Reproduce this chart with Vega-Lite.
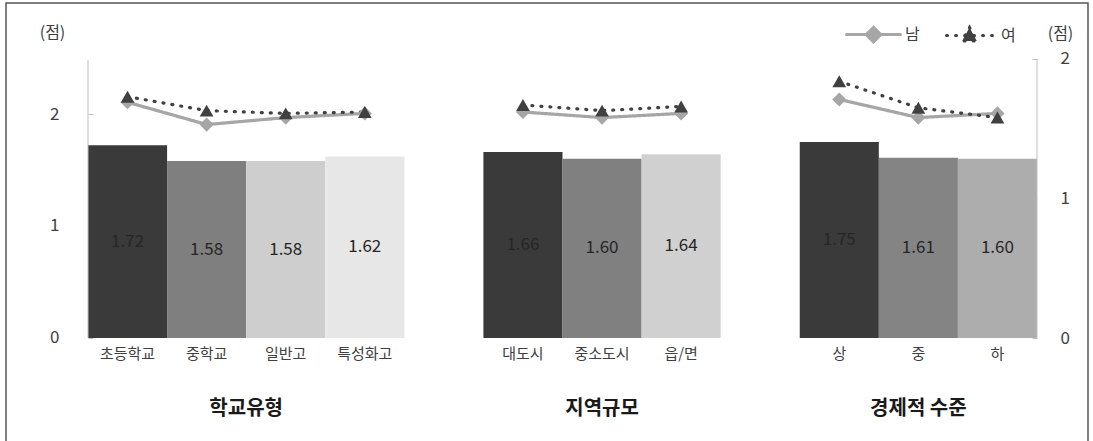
{
  "$schema": "https://vega.github.io/schema/vega-lite/v6.json",
  "autosize": {"type": "none"},
  "padding": {"left": 6, "top": 3, "right": 5, "bottom": 0},
  "width": 1082,
  "height": 439,
  "background": "white",
  "config": {
    "font": "Noto Sans CJK KR",
    "view": {"stroke": "#555555", "strokeWidth": 1.5}
  },
  "datasets": {
    "bars": [
      {"cat": "초등학교", "val": 1.72},
      {"cat": "중학교", "val": 1.58},
      {"cat": "일반고", "val": 1.58},
      {"cat": "특성화고", "val": 1.62},
      {"cat": "대도시", "val": 1.66},
      {"cat": "중소도시", "val": 1.60},
      {"cat": "읍/면", "val": 1.64},
      {"cat": "상", "val": 1.75},
      {"cat": "중", "val": 1.61},
      {"cat": "하", "val": 1.60}
    ],
    "lines": [
      {"cat": "초등학교", "grp": "학교유형", "sex": "남", "val": 1.69},
      {"cat": "중학교", "grp": "학교유형", "sex": "남", "val": 1.53},
      {"cat": "일반고", "grp": "학교유형", "sex": "남", "val": 1.58},
      {"cat": "특성화고", "grp": "학교유형", "sex": "남", "val": 1.61},
      {"cat": "대도시", "grp": "지역규모", "sex": "남", "val": 1.62},
      {"cat": "중소도시", "grp": "지역규모", "sex": "남", "val": 1.58},
      {"cat": "읍/면", "grp": "지역규모", "sex": "남", "val": 1.61},
      {"cat": "상", "grp": "경제적 수준", "sex": "남", "val": 1.71},
      {"cat": "중", "grp": "경제적 수준", "sex": "남", "val": 1.58},
      {"cat": "하", "grp": "경제적 수준", "sex": "남", "val": 1.61},
      {"cat": "초등학교", "grp": "학교유형", "sex": "여", "val": 1.73},
      {"cat": "중학교", "grp": "학교유형", "sex": "여", "val": 1.63},
      {"cat": "일반고", "grp": "학교유형", "sex": "여", "val": 1.61},
      {"cat": "특성화고", "grp": "학교유형", "sex": "여", "val": 1.62},
      {"cat": "대도시", "grp": "지역규모", "sex": "여", "val": 1.67},
      {"cat": "중소도시", "grp": "지역규모", "sex": "여", "val": 1.63},
      {"cat": "읍/면", "grp": "지역규모", "sex": "여", "val": 1.66},
      {"cat": "상", "grp": "경제적 수준", "sex": "여", "val": 1.84},
      {"cat": "중", "grp": "경제적 수준", "sex": "여", "val": 1.65},
      {"cat": "하", "grp": "경제적 수준", "sex": "여", "val": 1.58}
    ]
  },
  "layer": [
    {
      "data": {"name": "bars"},
      "mark": {"type": "bar"},
      "encoding": {
        "x": {
          "field": "cat",
          "type": "nominal",
          "sort": ["초등학교", "중학교", "일반고", "특성화고", " ", "대도시", "중소도시", "읍/면", "  ", "상", "중", "하"],
          "scale": {
            "domain": ["초등학교", "중학교", "일반고", "특성화고", " ", "대도시", "중소도시", "읍/면", "  ", "상", "중", "하"],
            "paddingInner": 0,
            "paddingOuter": 0.841,
            "align": 0.6165
          },
          "axis": {
            "orient": "bottom",
            "offset": -104,
            "domain": false,
            "ticks": false,
            "labelAngle": 0,
            "labelPadding": 8,
            "labelFontSize": 15,
            "labelColor": "#404040",
            "labelFont": "Noto Sans CJK KR",
            "title": null
          }
        },
        "y": {
          "field": "val",
          "type": "quantitative",
          "scale": {"domain": [-0.9286, 2.9911], "nice": false, "zero": false},
          "axis": {
            "orient": "left",
            "offset": -82,
            "values": [0, 1, 2],
            "domain": false,
            "grid": false,
            "tickSize": -5,
            "tickColor": "#bfbfbf",
            "labelPadding": 34,
            "labelFontSize": 17,
            "labelColor": "#404040",
            "labelFont": "Noto Sans CJK KR",
            "title": "(점)",
            "titleAngle": 0,
            "titleX": -36,
            "titleY": 29,
            "titleAlign": "center",
            "titleBaseline": "middle",
            "titleFontSize": 16,
            "titleFontWeight": "normal",
            "titleColor": "#404040",
            "titleFont": "Noto Sans CJK KR"
          }
        },
        "y2": {"datum": 0},
        "fill": {
          "field": "cat",
          "type": "nominal",
          "scale": {
            "domain": ["초등학교", "중학교", "일반고", "특성화고", "대도시", "중소도시", "읍/면", "상", "중", "하"],
            "range": ["#3a3a3a", "#7f7f7f", "#cecece", "#e7e7e7", "#3a3a3a", "#808080", "#d0d0d0", "#3a3a3a", "#848484", "#adadad"]
          },
          "legend": null
        }
      }
    },
    {
      "data": {"name": "bars"},
      "mark": {"type": "text", "fontSize": 17, "color": "#262626", "baseline": "middle", "align": "center"},
      "encoding": {
        "x": {"field": "cat", "type": "nominal"},
        "y": {
          "field": "val",
          "type": "quantitative",
          "scale": {"domain": [-1.8572, 5.9822], "nice": false, "zero": false},
          "axis": null
        },
        "text": {"field": "val", "type": "quantitative", "format": ".2f"}
      }
    },
    {
      "data": {"values": [{"c": "초등학교"}]},
      "mark": {"type": "rule", "color": "#bfbfbf", "strokeWidth": 1},
      "encoding": {
        "x": {"field": "c", "type": "nominal", "bandPosition": 0},
        "y": {"datum": 0, "type": "quantitative", "scale": {"domain": [-0.9286, 2.9911], "nice": false, "zero": false}, "axis": null},
        "y2": {"datum": 2.482}
      }
    },
    {
      "data": {"values": [{"c": "하"}]},
      "mark": {"type": "rule", "color": "#bfbfbf", "strokeWidth": 1},
      "encoding": {
        "x": {"field": "c", "type": "nominal", "bandPosition": 1},
        "y": {"datum": 0, "type": "quantitative", "scale": {"domain": [-0.7455, 2.4014], "nice": false, "zero": false}, "axis": null},
        "y2": {"datum": 2}
      }
    },
    {
      "data": {"values": [{"t": "학교유형", "c": "일반고"}]},
      "mark": {"type": "text", "fontSize": 20, "fontWeight": "bold", "color": "#1a1a1a", "baseline": "middle", "align": "center"},
      "encoding": {
        "x": {"field": "c", "type": "nominal", "bandPosition": 0},
        "y": {"datum": -0.634, "type": "quantitative", "scale": {"domain": [-0.9286, 2.9911], "nice": false, "zero": false}, "axis": null},
        "text": {"field": "t"}
      }
    },
    {
      "data": {"values": [{"t": "지역규모", "c": "중소도시"}, {"t": "경제적 수준", "c": "중"}]},
      "mark": {"type": "text", "fontSize": 20, "fontWeight": "bold", "color": "#1a1a1a", "baseline": "middle", "align": "center"},
      "encoding": {
        "x": {"field": "c", "type": "nominal"},
        "y": {"datum": -0.634, "type": "quantitative", "scale": {"domain": [-0.9286, 2.9911], "nice": false, "zero": false}, "axis": null},
        "text": {"field": "t"}
      }
    },
    {
      "data": {"name": "lines"},
      "mark": {"type": "line", "strokeWidth": 3.2, "strokeCap": "round"},
      "encoding": {
        "x": {
          "field": "cat",
          "type": "nominal",
          "sort": ["초등학교", "중학교", "일반고", "특성화고", " ", "대도시", "중소도시", "읍/면", "  ", "상", "중", "하"]
        },
        "y": {
          "field": "val",
          "type": "quantitative",
          "scale": {"domain": [-0.7455, 2.4014], "nice": false, "zero": false},
          "axis": {
            "orient": "right",
            "offset": -51,
            "values": [0, 1, 2],
            "domain": false,
            "grid": false,
            "tickSize": -5,
            "tickColor": "#bfbfbf",
            "labelPadding": 28,
            "labelFontSize": 17,
            "labelColor": "#404040",
            "labelFont": "Noto Sans CJK KR",
            "title": "(점)",
            "titleAngle": 0,
            "titleX": 23,
            "titleY": 30,
            "titleAlign": "center",
            "titleBaseline": "middle",
            "titleFontSize": 16,
            "titleFontWeight": "normal",
            "titleColor": "#404040",
            "titleFont": "Noto Sans CJK KR"
          }
        },
        "color": {
          "field": "sex",
          "type": "nominal",
          "scale": {"domain": ["남", "여"], "range": ["#a6a6a6", "#404040"]},
          "legend": {
            "orient": "none",
            "legendX": 839,
            "legendY": 3,
            "direction": "horizontal",
            "title": null,
            "symbolType": "M-1,0L1,0",
            "symbolSize": 2916,
            "symbolStrokeWidth": 3,
            "labelFontSize": 16,
            "labelOffset": 3,
            "columnPadding": 20,
            "padding": 0,
            "labelColor": "#404040",
            "labelFont": "Noto Sans CJK KR",
            "encode": {
              "symbols": {
                "update": {
                  "shape": {"signal": "datum.value === '남' ? 'M-1,0L1,0M0,-0.27L0.27,0L0,0.27L-0.27,0Z' : 'M-0.85,0L0.85,0M0,-0.3L0.27,0.2L-0.27,0.2Z'"},
                  "fill": {"signal": "datum.value === '남' ? '#a6a6a6' : '#404040'"},
                  "stroke": {"signal": "datum.value === '남' ? '#a6a6a6' : '#404040'"},
                  "strokeDash": {"signal": "datum.value === '남' ? [1, 0] : [1, 6]"},
                  "strokeCap": {"value": "round"},
                  "strokeWidth": {"value": 3},
                  "opacity": {"value": 1},
                  "fillOpacity": {"value": 1}
                }
              }
            }
          }
        },
        "strokeDash": {
          "field": "sex",
          "type": "nominal",
          "scale": {"domain": ["남", "여"], "range": [[1, 0], [1, 8]]},
          "legend": null
        },
        "detail": {"field": "grp", "type": "nominal"}
      }
    },
    {
      "data": {"name": "lines"},
      "transform": [{"filter": "datum.sex === '남'"}],
      "mark": {"type": "point", "filled": true, "size": 200, "opacity": 1, "shape": "diamond"},
      "encoding": {
        "x": {"field": "cat", "type": "nominal"},
        "y": {
          "field": "val",
          "type": "quantitative",
          "scale": {"domain": [-0.7455, 2.4014], "nice": false, "zero": false},
          "axis": null
        },
        "color": {"field": "sex", "type": "nominal"}
      }
    },
    {
      "data": {"name": "lines"},
      "transform": [{"filter": "datum.sex === '여'"}],
      "mark": {"type": "point", "filled": true, "size": 190, "opacity": 1, "shape": "triangle-up"},
      "encoding": {
        "x": {"field": "cat", "type": "nominal"},
        "y": {
          "field": "val",
          "type": "quantitative",
          "scale": {"domain": [-0.7455, 2.4014], "nice": false, "zero": false},
          "axis": null
        },
        "color": {"field": "sex", "type": "nominal"}
      }
    }
  ],
  "resolve": {"scale": {"y": "independent"}}
}
